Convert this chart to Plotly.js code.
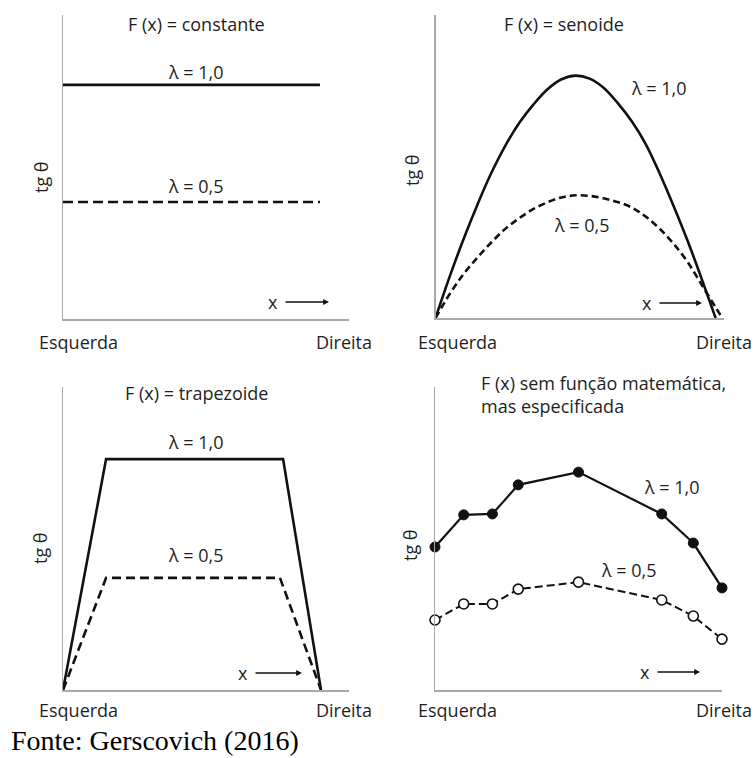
<!DOCTYPE html>
<html>
<head>
<meta charset="utf-8">
<script src="https://cdn.plot.ly/plotly-3.0.1.min.js"></script>
<style>html,body{margin:0;padding:0;background:#fff;}#chart{width:754px;height:758px;}</style>
</head>
<body>
<div id="chart"></div>
<script>
// ---- Data (x: 0 = Esquerda, 1 = Direita; y: tg θ, arbitrary units) ----
// Panel 1: constant
const constX = [0, 1];
const constY10 = [7.70, 7.70];
const constY05 = [3.85, 3.85];
// Panel 2: sinusoid
const sinX10 = [0, 0.05, 0.10, 0.15, 0.20, 0.25, 0.30, 0.35, 0.40, 0.45, 0.50, 0.55, 0.60, 0.65, 0.70, 0.75, 0.80, 0.85, 0.90, 0.95, 1.0];
const sinY10 = [0, 1.35, 2.60, 3.75, 4.80, 5.70, 6.45, 7.05, 7.55, 7.88, 8.00, 7.90, 7.60, 7.10, 6.50, 5.75, 4.78, 3.70, 2.55, 1.30, 0];
const sinX05 = [0, 0.05, 0.10, 0.15, 0.20, 0.25, 0.30, 0.35, 0.40, 0.45, 0.50, 0.55, 0.60, 0.65, 0.70, 0.75, 0.80, 0.85, 0.90, 0.95, 1.0, 1.024];
const sinY05 = [0, 0.78, 1.45, 2.00, 2.50, 2.95, 3.30, 3.60, 3.82, 3.98, 4.05, 4.03, 3.95, 3.83, 3.65, 3.35, 2.95, 2.45, 1.85, 1.10, 0.35, 0];
// Panel 3: trapezoid
const trapX10 = [0, 0.167, 0.853, 1.0];
const trapY10 = [0, 7.62, 7.62, 0];
const trapX05 = [0, 0.167, 0.841, 1.0];
const trapY05 = [0, 3.70, 3.70, 0];
// Panel 4: specified points
const ptsX = [0, 0.10, 0.20, 0.29, 0.50, 0.79, 0.90, 1.0];
const ptsY10 = [4.72, 5.78, 5.81, 6.77, 7.19, 5.81, 4.85, 3.37];
const ptsY05 = [2.31, 2.84, 2.84, 3.33, 3.56, 2.97, 2.44, 1.68];

const titles = ["F (x) = constante", "F (x) = senoide", "F (x) = trapezoide", "F (x) sem função matemática,<br>mas especificada"];
const lab10 = "λ = 1,0", lab05 = "λ = 0,5";
const yLabel = "tg θ";
const leftLabel = "Esquerda", rightLabel = "Direita";
const source = "Fonte: Gerscovich (2016)";

// ---- Layout helpers ----
const W = 754, H = 758;
const px = v => v / W;
const py = v => 1 - v / H;
const SANS = "'Open Sans', 'Noto Sans', sans-serif";
const TXT = "#1e1e1e";

const solid = {color: "#111", width: 2.6};
const dashed = (d) => ({color: "#111", width: 2.6, dash: d});

const traces = [
  {x: constX, y: constY10, xaxis: "x", yaxis: "y", mode: "lines", line: solid},
  {x: constX, y: constY05, xaxis: "x", yaxis: "y", mode: "lines", line: dashed("10px,5px")},
  {x: sinX10, y: sinY10, xaxis: "x2", yaxis: "y2", mode: "lines", line: Object.assign({shape: "spline", smoothing: 1}, solid)},
  {x: sinX05, y: sinY05, xaxis: "x2", yaxis: "y2", mode: "lines", line: Object.assign({shape: "spline", smoothing: 1}, dashed("7px,4px"))},
  {x: trapX10, y: trapY10, xaxis: "x3", yaxis: "y3", mode: "lines", line: solid},
  {x: trapX05, y: trapY05, xaxis: "x3", yaxis: "y3", mode: "lines", line: dashed("9px,5px")},
  {x: ptsX, y: ptsY10, xaxis: "x4", yaxis: "y4", mode: "lines+markers", cliponaxis: false,
   line: {color: "#111", width: 2.2}, marker: {size: 10, color: "#111", line: {color: "#111", width: 1}}},
  {x: ptsX, y: ptsY05, xaxis: "x4", yaxis: "y4", mode: "lines+markers", cliponaxis: false,
   line: {color: "#111", width: 2, dash: "8px,4px"}, marker: {size: 10, color: "#fff", line: {color: "#111", width: 1.6}}}
];

function ax(domain, range, anchor) {
  return {domain: domain, range: range, anchor: anchor, showline: true, linecolor: "#a8a8a8", linewidth: 1.5,
          showgrid: false, zeroline: false, showticklabels: false, ticks: "", fixedrange: true};
}

const annotations = [];
function txt(text, x, y, size, opts) {
  annotations.push(Object.assign({text: text, x: px(x), y: py(y), xref: "paper", yref: "paper", showarrow: false,
    font: {family: SANS, size: size, color: TXT}, xanchor: "center", yanchor: "middle"}, opts || {}));
}
// titles
txt(titles[0], 196, 24, 18);
txt(titles[1], 564, 24, 18);
txt(titles[2], 196, 393, 18);
txt(titles[3], 479, 394, 18, {xanchor: "left", align: "left"});
// lambda labels
txt(lab10, 196, 72, 18); txt(lab05, 196, 186, 18);
txt(lab10, 659, 88, 18); txt(lab05, 582, 225, 18);
txt(lab10, 196, 442, 18); txt(lab05, 196, 555, 18);
txt(lab10, 672, 487, 18); txt(lab05, 629, 570, 18);
// y labels
[[41, 177], [412, 170], [40, 548], [410, 545]].forEach(p => txt(yLabel, p[0], p[1], 18, {textangle: -90}));
// x end labels
[[78, 342], [457, 342], [78, 710], [457, 710]].forEach(p => txt(leftLabel, p[0], p[1], 18));
[[344, 342], [724, 342], [344, 710], [724, 710]].forEach(p => txt(rightLabel, p[0], p[1], 18));
// x arrows
[[329, 302, -56], [702, 303, -55], [302, 673, -59], [700, 672, -55]].forEach(p => {
  annotations.push({text: "x", x: px(p[0]), y: py(p[1]), xref: "paper", yref: "paper", showarrow: true,
    ax: p[2], ay: 0, arrowhead: 2, arrowsize: 0.9, arrowwidth: 1.3, arrowcolor: "#111", startstandoff: 6,
    font: {family: SANS, size: 18, color: TXT}});
});
// source
annotations.push({text: source, x: px(9), y: 0, xref: "paper", yref: "paper", showarrow: false,
  xanchor: "left", yanchor: "bottom", font: {family: "'Liberation Serif', 'Times New Roman', serif", size: 28, color: "#000"}});

const layout = {
  width: W, height: H, margin: {l: 0, r: 0, t: 0, b: 0}, paper_bgcolor: "#fff", plot_bgcolor: "rgba(0,0,0,0)",
  showlegend: false,
  xaxis: ax([px(63), px(349)], [0, 1.113], "y"),
  yaxis: ax([py(319), py(15)], [0, 10], "x"),
  xaxis2: ax([px(435.5), px(724)], [0, 1.03], "y2"),
  yaxis2: ax([py(318), py(15)], [0, 10], "x2"),
  xaxis3: ax([px(63), px(349)], [0, 1.1085], "y3"),
  yaxis3: ax([py(690), py(387)], [0, 10], "x3"),
  xaxis4: ax([px(435), px(722)], [0, 1], "y4"),
  yaxis4: ax([py(690), py(387)], [0, 10], "x4"),
  annotations: annotations
};

Plotly.newPlot("chart", traces, layout, {displayModeBar: false, staticPlot: true});
</script>
</body>
</html>
